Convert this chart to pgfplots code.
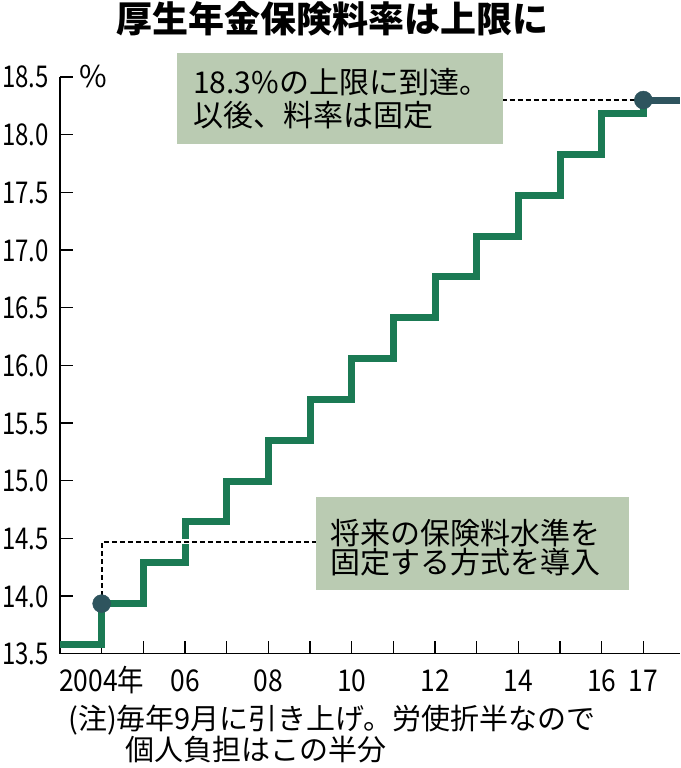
\documentclass[border=0pt]{standalone}
\usepackage{fontspec}
\setmainfont{Noto Sans CJK JP}
\newfontfamily\numfont[FakeStretch=0.88]{Noto Sans CJK JP}
\newfontfamily\ynumfont[FakeStretch=0.8]{Noto Sans CJK JP}
\usepackage{pgfplots}
\pgfplotsset{compat=1.18}
\definecolor{stepgreen}{RGB}{27,122,84}
\definecolor{dotdark}{RGB}{46,84,94}
\definecolor{boxfill}{RGB}{186,203,178}
\begin{document}
\begin{tikzpicture}
\useasboundingbox (-60pt,-114.3pt) rectangle (620pt,653.7pt);
\begin{axis}[
  at={(0pt,0pt)}, anchor=south west,
  scale only axis, width=620pt, height=576.7pt,
  xmin=2003, xmax=2017.88, ymin=13.5, ymax=18.5,
  axis x line=bottom, axis y line=left,
  axis line style={-, line width=1.2pt, black},
  tick align=inside, major tick length=13pt,
  tick style={line width=1.2pt, black},
  xtick={2004,2005,2006,2007,2008,2009,2010,2011,2012,2013,2014,2015,2016,2017},
  xticklabels={2004年,,06,,08,,10,,12,,14,,16,17},
  ytick={13.5,14,14.5,15,15.5,16,16.5,17,17.5,18,18.5},
  yticklabels={13.5,14.0,14.5,15.0,15.5,16.0,16.5,17.0,17.5,18.0,18.5},
  xticklabel style={font=\fontsize{30}{30}\selectfont\numfont, inner sep=0pt, anchor=base, yshift=-38pt},
  yticklabel style={font=\fontsize{30}{30}\selectfont\ynumfont, inner sep=0pt, anchor=base east, xshift=-11pt, yshift=-11pt},
  clip=false,
]
\addplot[stepgreen, line width=7pt, const plot, line join=miter] coordinates {
  (2003,13.58) (2004,13.934) (2005,14.288) (2006,14.642) (2007,14.996)
  (2008,15.35) (2009,15.704) (2010,16.058) (2011,16.412) (2012,16.766)
  (2013,17.12) (2014,17.474) (2015,17.828) (2016,18.182) (2017,18.3)};
\addplot[dotdark, line width=7pt] coordinates {(2017,18.3) (2017.88,18.3)};
\addplot[white, line width=5pt] coordinates {(2004,13.934) (2004,14.47) (2009.15,14.47)};
\addplot[black, line width=1.8pt, dash pattern=on 5pt off 3pt] coordinates {(2004,13.934) (2004,14.47) (2009.15,14.47)};
\addplot[black, line width=1.8pt, dash pattern=on 5pt off 3pt] coordinates {(2013.6,18.3) (2017,18.3)};
\addplot[only marks, mark=*, mark size=9pt, draw=dotdark, fill=dotdark] coordinates {(2004,13.934) (2017,18.3)};
\end{axis}
% annotation boxes
\fill[boxfill] (117pt,509.7pt) rectangle (443pt,600.7pt);
\fill[boxfill] (256pt,63.7pt) rectangle (569pt,156.7pt);
\node[anchor=west, inner sep=0pt, font=\fontsize{30}{30}\selectfont] at (133pt,571.7pt) {18.3\%の上限に到達。};
\node[anchor=west, inner sep=0pt, font=\fontsize{30}{30}\selectfont] at (133pt,538.7pt) {以後、料率は固定};
\node[anchor=west, inner sep=0pt, font=\fontsize{30}{30}\selectfont] at (270pt,120.7pt) {将来の保険料水準を};
\node[anchor=west, inner sep=0pt, font=\fontsize{30}{30}\selectfont] at (270pt,91.7pt) {固定する方式を導入};
% title
\node[inner sep=0pt, font=\fontsize{36}{36}\selectfont\bfseries] at (272pt,634.7pt) {厚生年金保険料率は上限に};
% unit
\node[anchor=west, inner sep=0pt, font=\fontsize{30}{30}\selectfont] at (19pt,576.7pt) {\%};
% footnote
\node[anchor=west, inner sep=0pt, font=\fontsize{29}{29}\selectfont] at (8pt,-66.3pt) {(注)毎年9月に引き上げ。労使折半なので};
\node[anchor=west, inner sep=0pt, font=\fontsize{29}{29}\selectfont] at (65pt,-96.3pt) {個人負担はこの半分};
\end{tikzpicture}
\end{document}
